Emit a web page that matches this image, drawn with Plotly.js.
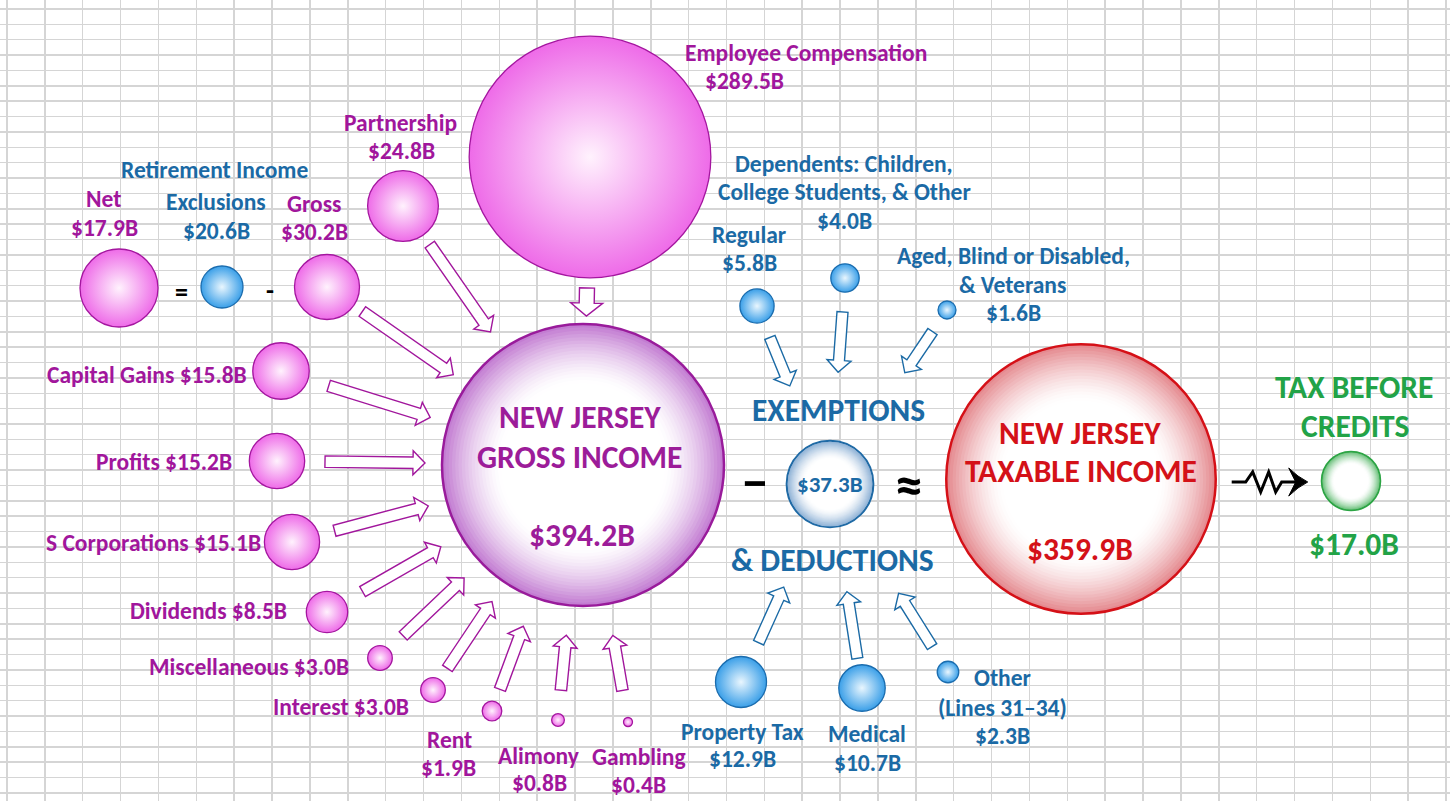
<!DOCTYPE html>
<html>
<head>
<meta charset="utf-8">
<script src="https://cdn.plot.ly/plotly-3.0.1.min.js"></script>
<style>html,body{margin:0;padding:0;background:#fff;}#chart{width:1450px;height:801px;}</style>
</head>
<body>
<div id="chart"></div>
<script>
// ---------------- DATA ----------------
const incomeSources = ['Employee Compensation','Partnership','Capital Gains','Profits','S Corporations','Dividends','Miscellaneous','Interest','Rent','Alimony','Gambling'];
const incomeValues  = [289.5, 24.8, 15.8, 15.2, 15.1, 8.5, 3.0, 3.0, 1.9, 0.8, 0.4];
const retirementTitle = 'Retirement Income';
const retirementParts  = ['Net','Exclusions','Gross'];
const retirementValues = [17.9, 20.6, 30.2];
const exemptionItems  = ['Regular','Dependents: Children,\nCollege Students, & Other','Aged, Blind or Disabled,\n& Veterans'];
const exemptionValues = [5.8, 4.0, 1.6];
const deductionItems  = ['Property Tax','Medical','Other\n(Lines 31\u201334)'];
const deductionValues = [12.9, 10.7, 2.3];
const totalNames  = ['NEW JERSEY\nGROSS INCOME','EXEMPTIONS\n& DEDUCTIONS','NEW JERSEY\nTAXABLE INCOME','TAX BEFORE\nCREDITS'];
const totalValues = [394.2, 37.3, 359.9, 17.0];

// ---------------- LAYOUT GEOMETRY (positions / sizes / styles) ----------------
const incomePos = [[590,157],[403,206],[281,371],[277,461],[292,542],[327,612],[380,658],[433,690],[492,711],[558,720],[628,722]];
const incomeLabelPos = [[[806,53],[744,81]],[[400,123],[401,151]],[[147,375]],[[164,462]],[[153,543]],[[208,611]],[[249,667]],[[341,707]],[[449,740],[448,768]],[[539,756],[539,783]],[[639,757],[638,785]]];
const incomeArrow = [[131,149],[47,162],[50,160],[48,158],[44,160],[41,164],[32,164],[26,164],[23,172],[30,171],[32,173]];
const retirementPos = [[119,288],[222,287],[327,287]];
const retirementDiam = [78, 42, 65];
const retirementLabelPos = [[[103,199],[104,228]],[[216,202],[216,231]],[[314,204],[314,232]]];
const retirementColorKind = ['pink','blue','pink'];
const retirementTitlePos = [214,170];
const retirementArrow = [43,158];
const exemptionPos = [[757,306],[845,278],[947,310]];
const exemptionLabelPos = [[[749,235],[749,263]],[[844,164],[844,192],[844,221]],[[1013,256],[1012,285],[1013,313]]];
const exemptionArrow = [[34,106],[34,112],[26,134]];
const deductionPos = [[741,682],[862,688],[948,672]];
const deductionLabelPos = [[[742,732],[742,759]],[[867,734],[867,763]],[[1002,678],[1002,708],[1002,736]]];
const deductionArrow = [[43,113],[30,109],[30,129]];
const totalPos = [[583,465],[830,484],[1081,479],[1351,481]];
const totalLabelPos = [[[580,417],[580,457],[582,535]],[[838,410],[832,560],[830,484]],[[1080,433],[1081,471],[1080,549]],[[1354,387],[1355,426],[1354,544]]];
const totalText = ['#9c1c99','#1b6aa5','#d41118','#22a347'];
const totalEdge = ['#c077d0','#86acd3','#e4858b','#62bd73'];
const totalBorder = ['#991b9b','#1f6aa5','#d51017','#2ca444'];
const totalBorderW = [2.5, 2, 2.5, 2];
const RING_N = 18, RING_R0 = 0.58, RING_POW = 1.5;

const FONT = 'Calibri, Carlito, Lato, sans-serif';
const LABEL_SIZE = 23.5, BIG_SIZE = 31.5;
const PINK_TXT = '#a1169c', BLUE_TXT = '#1b6aa5';
const PINK = {edge:'#ee6be8', center:'#fff2fd', line:'#a4169f'};
const BLUE = {edge:'#3a9fe8', center:'#e9f6fe', line:'#1a6cae'};
const MAXD = 282; // diameter of the largest bubble (px)
// plotly area mode: radius = sqrt(v / (2*sizeref))
const sizeref = 2 * totalValues[0] / (MAXD*MAXD);
const radiusOf = v => Math.sqrt(v / (2*sizeref));

const fmt = v => '$' + v.toFixed(1) + 'B';
function mixWhite(hex, t){
  const c = [1,3,5].map(i=>parseInt(hex.substr(i,2),16));
  return 'rgb(' + c.map(v=>Math.round(255 + (v-255)*t)).join(',') + ')';
}

// ---------------- HELPERS ----------------
const annotations = [];
function addText(txt, x, y, color, size){
  annotations.push({x:x, y:y, xref:'x', yref:'y', text:txt, showarrow:false,
    xanchor:'center', yanchor:'middle',
    font:{family:FONT, size:size, color:color, weight:'bold'}});
}
function addLabel(name, value, posList, color, size){
  const lines = name.split('\n');
  if (posList.length === 1){
    addText(lines.join(' ') + ' ' + fmt(value), posList[0][0], posList[0][1], color, size);
  } else {
    lines.push(fmt(value));
    lines.forEach((ln,i)=> addText(ln, posList[i][0], posList[i][1], color, size));
  }
}
const shapes = [];
function blockArrow(src, tgt, d0, d1, shaft, head, hl, color){
  const dx = tgt[0]-src[0], dy = tgt[1]-src[1], L = Math.hypot(dx,dy);
  const ux = dx/L, uy = dy/L, nx = -uy, ny = ux;
  const s = [src[0]+ux*d0, src[1]+uy*d0];
  const t = [tgt[0]-ux*d1, tgt[1]-uy*d1];
  const n = [t[0]-ux*hl, t[1]-uy*hl];
  const a = shaft/2, b = head/2;
  const pts = [
    [s[0]+nx*a, s[1]+ny*a],[n[0]+nx*a, n[1]+ny*a],[n[0]+nx*b, n[1]+ny*b],t,
    [n[0]-nx*b, n[1]-ny*b],[n[0]-nx*a, n[1]-ny*a],[s[0]-nx*a, s[1]-ny*a]];
  shapes.push({type:'path', xref:'x', yref:'y', layer:'between',
    path:'M' + pts.map(p=>p[0].toFixed(1)+','+p[1].toFixed(1)).join(' L') + ' Z',
    fillcolor:'#ffffff', line:{color:color, width:1.4}});
}

// ---------------- TRACES ----------------
const traces = [];
function bubbleTrace(pos, vals, st){
  return {type:'scatter', mode:'markers', hoverinfo:'skip',
    x:pos.map(p=>p[0]), y:pos.map(p=>p[1]),
    marker:{size:vals, sizemode:'area', sizeref:sizeref, sizemin:0, opacity:1,
      color:st.edge, gradient:{type:'radial', color:st.center},
      line:{color:st.line, width:1.3}}};
}
traces.push(bubbleTrace(incomePos, incomeValues, PINK));
traces.push(bubbleTrace(exemptionPos, exemptionValues, BLUE));
traces.push(bubbleTrace(deductionPos, deductionValues, BLUE));
// retirement trio (drawn at the sizes pictured)
traces.push({type:'scatter', mode:'markers', hoverinfo:'skip',
  x:retirementPos.map(p=>p[0]), y:retirementPos.map(p=>p[1]),
  marker:{size:retirementDiam, sizemode:'diameter', opacity:1,
    color:retirementColorKind.map(k=>k==='pink'?PINK.edge:BLUE.edge),
    gradient:{type:'radial', color:retirementColorKind.map(k=>k==='pink'?PINK.center:BLUE.center)},
    line:{color:retirementColorKind.map(k=>k==='pink'?PINK.line:BLUE.line), width:1.3}}});
// totals: concentric rings (tinted rim fading to a white core)
(function(){
  const X=[],Y=[],S=[],C=[],LW=[],LC=[];
  const step = (1-RING_R0)/RING_N;
  for (let k=0; k<=RING_N; k++){
    const rho = 1 - k*step;
    const mid = rho - step/2;
    const t = k===RING_N ? 0 : Math.pow(Math.max(0,(mid-RING_R0)/(1-RING_R0)), RING_POW);
    totalValues.forEach((v,i)=>{
      X.push(totalPos[i][0]); Y.push(totalPos[i][1]);
      S.push(v*rho*rho);
      C.push(mixWhite(totalEdge[i], t));
      LW.push(k===0 ? totalBorderW[i] : 0);
      LC.push(totalBorder[i]);
    });
  }
  traces.push({type:'scatter', mode:'markers', hoverinfo:'skip', x:X, y:Y,
    marker:{size:S, sizemode:'area', sizeref:sizeref, opacity:1, color:C,
      line:{color:LC, width:LW}}});
})();

// ---------------- ARROWS ----------------
incomePos.forEach((p,i)=>{
  if (i===0) blockArrow(p, totalPos[0], incomeArrow[i][0], incomeArrow[i][1], 15, 32, 13, PINK_TXT);
  else blockArrow(p, totalPos[0], incomeArrow[i][0], incomeArrow[i][1], 11.5, 24, 12, PINK_TXT);
});
blockArrow(retirementPos[2], totalPos[0], retirementArrow[0], retirementArrow[1], 11.5, 24, 12, PINK_TXT);
exemptionPos.forEach((p,i)=> blockArrow(p, totalPos[1], exemptionArrow[i][0], exemptionArrow[i][1], 11, 24, 12, BLUE_TXT));
deductionPos.forEach((p,i)=> blockArrow(p, totalPos[1], deductionArrow[i][0], deductionArrow[i][1], 11, 24, 12, BLUE_TXT));

// zig-zag arrow from taxable income to tax
(function(){
  const r1 = radiusOf(totalValues[2]), r2 = radiusOf(totalValues[3]);
  const x0 = totalPos[2][0] + r1 + 16, x1 = totalPos[3][0] - r2 - 14, y = 482;
  const zig = [[0,0],[14,0],[21,-10],[29,10],[37,-10],[44,10],[50,0],[x1-x0-12,0]];
  shapes.push({type:'path', xref:'x', yref:'y', layer:'above',
    path:'M' + zig.map(q=>(x0+q[0]).toFixed(1)+','+(y+q[1]).toFixed(1)).join(' L'),
    line:{color:'#000', width:3}});
  shapes.push({type:'path', xref:'x', yref:'y', layer:'above',
    path:`M${x1},${y} Q${x1-10},${y-5} ${x1-19},${y-14} L${x1-12},${y} L${x1-19},${y+14} Q${x1-10},${y+5} ${x1},${y} Z`,
    fillcolor:'#000', line:{color:'#000', width:1}});
})();

// white margins above / left of the sheet grid
shapes.push({type:'rect', xref:'paper', yref:'y', x0:0, x1:1, y0:0, y1:8, layer:'between', fillcolor:'#fff', line:{width:0}});
shapes.push({type:'rect', xref:'x', yref:'paper', x0:0, x1:6, y0:0, y1:1, layer:'between', fillcolor:'#fff', line:{width:0}});

// ---------------- LABELS ----------------
incomeSources.forEach((n,i)=> addLabel(n, incomeValues[i], incomeLabelPos[i], PINK_TXT, LABEL_SIZE));
addText(retirementTitle, retirementTitlePos[0], retirementTitlePos[1], BLUE_TXT, LABEL_SIZE);
retirementParts.forEach((n,i)=> addLabel(n, retirementValues[i], retirementLabelPos[i], retirementColorKind[i]==='pink'?PINK_TXT:BLUE_TXT, LABEL_SIZE));
exemptionItems.forEach((n,i)=> addLabel(n, exemptionValues[i], exemptionLabelPos[i], BLUE_TXT, LABEL_SIZE));
deductionItems.forEach((n,i)=> addLabel(n, deductionValues[i], deductionLabelPos[i], BLUE_TXT, LABEL_SIZE));
totalNames.forEach((n,i)=>{
  const lines = n.split('\n');
  const pos = totalLabelPos[i];
  addText(lines[0], pos[0][0], pos[0][1], totalText[i], BIG_SIZE);
  addText(lines[1], pos[1][0], pos[1][1], totalText[i], BIG_SIZE);
  addText(fmt(totalValues[i]), pos[2][0], pos[2][1], totalText[i], i===1?23:31.5);
});
addText('=', 181, 292, '#000', 26);
addText('-', 270, 290, '#000', 26);
addText('\u2212', 755, 482, '#000', 52);
addText('\u2248', 909, 485, '#000', 56);

// ---------------- LAYOUT ----------------
const axisBase = {showgrid:true, gridcolor:'#d5d5d5', gridwidth:1.5, tickmode:'linear',
  showticklabels:false, ticks:'', zeroline:false, showline:false, fixedrange:true};
const layout = {
  width:1450, height:801, margin:{l:0,r:0,t:0,b:0},
  paper_bgcolor:'#ffffff', plot_bgcolor:'#ffffff', showlegend:false, hovermode:false,
  xaxis:Object.assign({}, axisBase, {range:[0,1450], tick0:7, dtick:37.868}),
  yaxis:Object.assign({}, axisBase, {range:[801,0], tick0:9, dtick:15.37}),
  shapes:shapes, annotations:annotations
};
Plotly.newPlot('chart', traces, layout, {displayModeBar:false, staticPlot:true});
</script>
</body>
</html>
